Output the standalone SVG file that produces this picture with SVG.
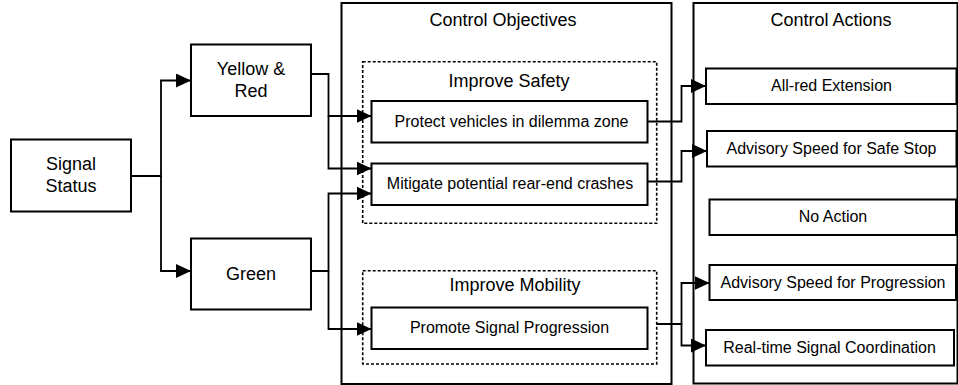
<svg xmlns="http://www.w3.org/2000/svg" width="958" height="385" viewBox="0 0 958 385">
<style>
.box{fill:#fff;stroke:#000;stroke-width:2}
.frame{fill:none;stroke:#000;stroke-width:2}
.dash{fill:none;stroke:#000;stroke-width:1.6;stroke-dasharray:3 2}
.conn{fill:none;stroke:#000;stroke-width:1.8}
text{font-family:"Liberation Sans",Arial,sans-serif;fill:#000;text-anchor:middle}
.t18{font-size:18px}
.t16{font-size:16px}
</style>
<defs>
<marker id="arr" markerUnits="userSpaceOnUse" markerWidth="16" markerHeight="15" refX="15" refY="7" orient="auto" viewBox="0 0 16 15">
<path d="M0,0 L15,7 L0,14 z" fill="#000"/>
</marker>
</defs>
<rect fill="#fff" width="958" height="385"/>
<g id="control-objectives">
<rect class="frame" x="341.5" y="3" width="330" height="381"/>
<text class="t18" x="503" y="26">Control Objectives</text>
</g>
<g id="control-actions">
<rect class="frame" x="693.5" y="3" width="264" height="380.5"/>
<text class="t18" x="831" y="26">Control Actions</text>
</g>
<g id="improve-safety">
<rect class="dash" x="362.7" y="61.7" width="294" height="161.6"/>
<text class="t18" x="509" y="87">Improve Safety</text>
</g>
<g id="improve-mobility">
<rect class="dash" x="362.7" y="270.7" width="294" height="93.3"/>
<text class="t18" x="515" y="291">Improve Mobility</text>
</g>
<g id="signal-status">
<rect class="box" x="11" y="139.5" width="120" height="72"/>
<text class="t18" x="71" y="170">Signal</text>
<text class="t18" x="71" y="192">Status</text>
</g>
<g id="yellow-red">
<rect class="box" x="191" y="44.5" width="120" height="71.5"/>
<text class="t18" x="251" y="75">Yellow &amp;</text>
<text class="t18" x="251" y="97">Red</text>
</g>
<g id="green">
<rect class="box" x="191" y="238.5" width="120" height="71"/>
<text class="t18" x="251" y="280">Green</text>
</g>
<g id="protect">
<rect class="box" x="371.5" y="101" width="276" height="41.5"/>
<text class="t16" x="511.5" y="127">Protect vehicles in dilemma zone</text>
</g>
<g id="mitigate">
<rect class="box" x="371.5" y="163.5" width="276" height="41.5"/>
<text class="t16" x="510" y="188.5">Mitigate potential rear-end crashes</text>
</g>
<g id="promote">
<rect class="box" x="371.5" y="307.5" width="276" height="41.5"/>
<text class="t16" x="509.5" y="333">Promote Signal Progression</text>
</g>
<g id="all-red">
<rect class="box" x="706" y="68.5" width="250.5" height="35.5"/>
<text class="t16" x="831.5" y="91">All-red Extension</text>
</g>
<g id="advisory-safe-stop">
<rect class="box" x="707" y="131" width="249.5" height="35.5"/>
<text class="t16" x="831.5" y="154">Advisory Speed for Safe Stop</text>
</g>
<g id="no-action">
<rect class="box" x="709.5" y="199.5" width="246.5" height="35.5"/>
<text class="t16" x="833" y="222">No Action</text>
</g>
<g id="advisory-progression">
<rect class="box" x="709.5" y="265" width="246.5" height="35"/>
<text class="t16" x="833" y="287.5">Advisory Speed for Progression</text>
</g>
<g id="realtime-coordination">
<rect class="box" x="706" y="330" width="248" height="35.5"/>
<text class="t16" x="829.5" y="352.5">Real-time Signal Coordination</text>
</g>
<g id="connectors">
<path class="conn" d="M131,176 H161 V80.5 H191" marker-end="url(#arr)"/>
<path class="conn" d="M161,176 V271 H191" marker-end="url(#arr)"/>
<path class="conn" d="M311,74 H328.5 V116 H371.5" marker-end="url(#arr)"/>
<path class="conn" d="M328.5,116 V168.5 H371.5" marker-end="url(#arr)"/>
<path class="conn" d="M311,271 H328.5 V193.5 H371.5" marker-end="url(#arr)"/>
<path class="conn" d="M328.5,271 V329 H371.5" marker-end="url(#arr)"/>
<path class="conn" d="M647.5,121.5 H681.5 V86 H706" marker-end="url(#arr)"/>
<path class="conn" d="M647.5,181.5 H681.5 V151 H707" marker-end="url(#arr)"/>
<path class="conn" d="M656.7,324 H681.5 V283 H709.5" marker-end="url(#arr)"/>
<path class="conn" d="M681.5,324 V345.5 H706" marker-end="url(#arr)"/>
</g>
</svg>
